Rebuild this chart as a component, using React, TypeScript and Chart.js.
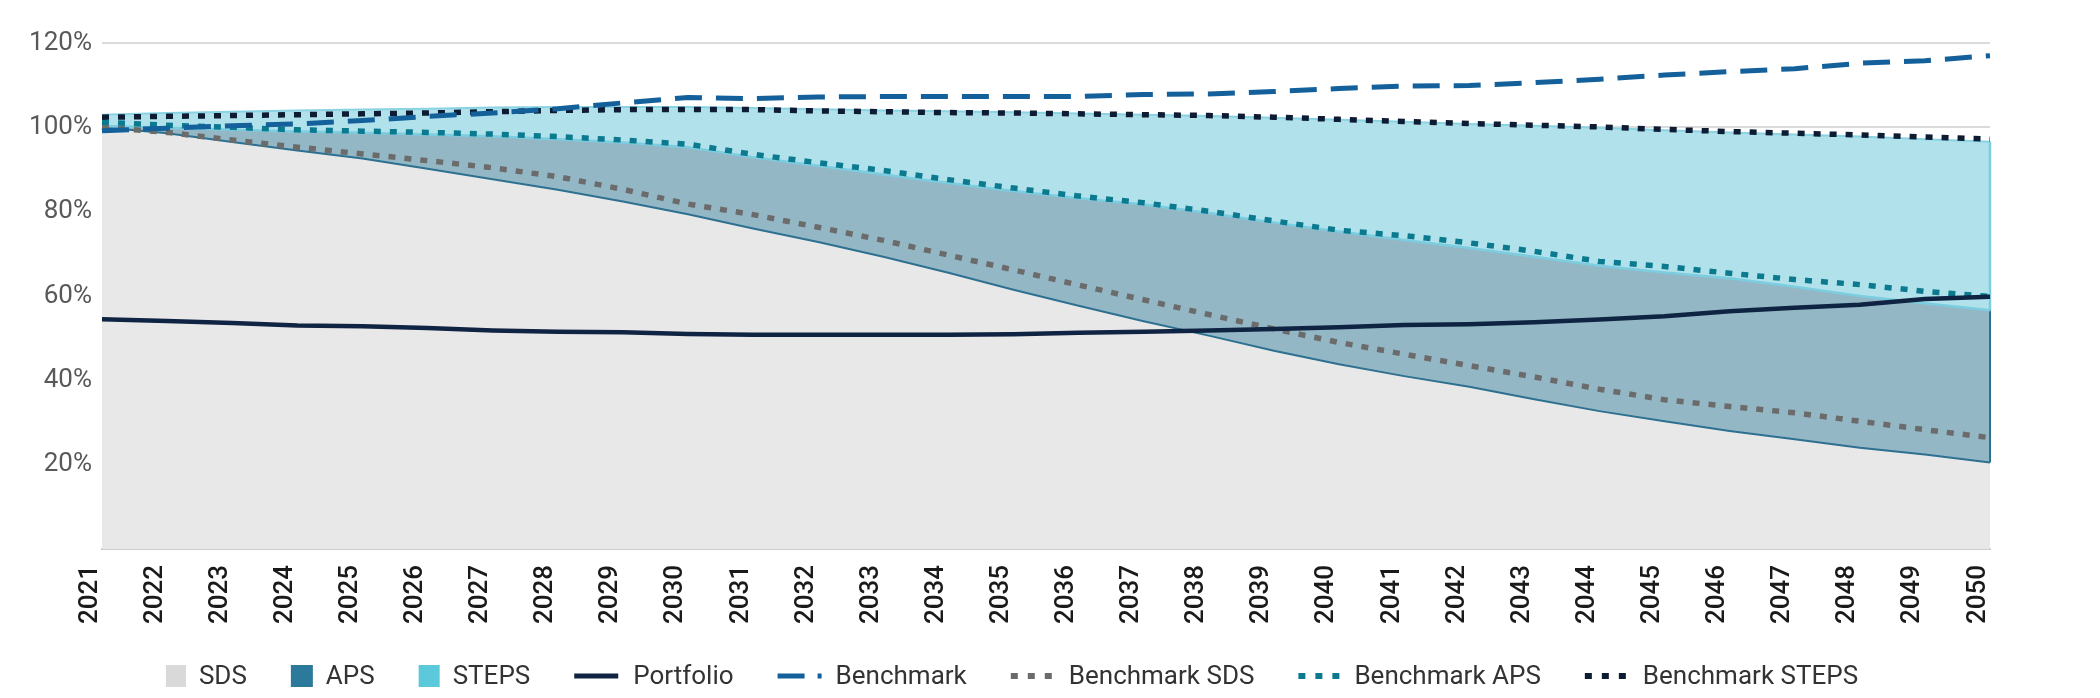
import React, { useEffect, useRef } from 'react';
import { Chart, registerables } from 'chart.js';

Chart.register(...registerables);

const years = [
  '2021', '2022', '2023', '2024', '2025', '2026', '2027', '2028', '2029', '2030',
  '2031', '2032', '2033', '2034', '2035', '2036', '2037', '2038', '2039', '2040',
  '2041', '2042', '2043', '2044', '2045', '2046', '2047', '2048', '2049', '2050',
];

const seriesNames = ['SDS', 'APS', 'STEPS', 'Portfolio', 'Benchmark', 'Benchmark SDS', 'Benchmark APS', 'Benchmark STEPS'];

const sds = [100, 98.6, 96.5, 94.5, 92.6, 90.2, 87.7, 85.2, 82.4, 79.4, 76.0, 72.8, 69.3, 65.5, 61.5, 57.7, 54.0, 50.6, 47.0, 43.8, 41.0, 38.5, 35.5, 32.7, 30.3, 28.0, 26.0, 24.0, 22.4, 20.5];
const aps = [100.3, 99.9, 99.4, 99.0, 98.7, 98.3, 97.9, 97.2, 96.4, 95.3, 92.9, 90.9, 88.8, 86.8, 84.9, 83.2, 81.7, 79.7, 77.4, 75.3, 73.3, 71.4, 69.3, 67.2, 65.6, 64.2, 62.2, 60.0, 58.3, 56.6];
const steps = [103.0, 103.4, 103.7, 104.0, 104.2, 104.4, 104.7, 104.8, 104.8, 104.8, 104.6, 104.3, 104.0, 103.8, 103.6, 103.3, 103.0, 102.7, 102.3, 101.8, 101.3, 100.8, 100.4, 99.9, 99.3, 98.8, 98.3, 97.8, 97.2, 96.6];
const portfolio = [54.5, 54.1, 53.6, 53.0, 52.8, 52.4, 51.8, 51.5, 51.4, 51.0, 50.8, 50.8, 50.8, 50.8, 50.9, 51.3, 51.5, 51.8, 52.2, 52.6, 53.1, 53.3, 53.8, 54.4, 55.2, 56.4, 57.2, 57.9, 59.3, 59.8];
const benchmark = [99.2, 99.8, 100.4, 100.8, 101.6, 102.6, 103.4, 104.4, 105.8, 107.1, 106.8, 107.2, 107.3, 107.3, 107.3, 107.3, 107.8, 107.9, 108.5, 109.2, 109.8, 109.9, 110.6, 111.4, 112.4, 113.2, 113.9, 115.2, 115.8, 117.0];
const benchmarkSds = [100, 98.8, 97.0, 95.3, 93.7, 92.1, 90.4, 88.3, 85.3, 81.8, 79.3, 76.3, 73.2, 69.7, 66.2, 62.6, 59.1, 55.6, 52.2, 49.0, 46.2, 43.5, 40.8, 37.9, 35.4, 33.8, 32.3, 30.3, 28.3, 26.4];
const benchmarkAps = [101.2, 100.5, 100.0, 99.4, 99.1, 98.8, 98.4, 97.8, 97.0, 96.0, 93.6, 91.6, 89.8, 87.6, 85.6, 83.7, 82.1, 80.1, 77.8, 75.6, 74.3, 72.6, 70.6, 68.2, 67.0, 65.4, 63.9, 62.7, 61.1, 59.9];
const benchmarkSteps = [102.4, 102.6, 102.8, 103.0, 103.2, 103.4, 103.7, 104.0, 104.2, 104.2, 104.2, 103.9, 103.7, 103.5, 103.4, 103.2, 103.0, 102.8, 102.4, 101.9, 101.4, 100.9, 100.5, 100.1, 99.5, 99.0, 98.6, 98.2, 97.7, 97.2];

const Y_MIN = 0;
const Y_MAX = 120;
const Y_STEP = 20;

const FONT = 'Roboto';

type LegendStyle = { kind: 'box' | 'line'; color: string; w: number; gap: number; dash?: number[]; lw?: number };
const legendStyles: LegendStyle[] = [
  { kind: 'box', color: '#d9d9d9', w: 20, gap: 13 },
  { kind: 'box', color: '#2c7a9b', w: 22, gap: 13 },
  { kind: 'box', color: '#5bc8dc', w: 21, gap: 13 },
  { kind: 'line', color: '#0f2442', w: 44, gap: 15, dash: [], lw: 5 },
  { kind: 'line', color: '#14609a', w: 44, gap: 14, dash: [27, 13], lw: 5 },
  { kind: 'line', color: '#6b6b6b', w: 41, gap: 17, dash: [7, 10], lw: 6 },
  { kind: 'line', color: '#0b7a8f', w: 41, gap: 15, dash: [7, 10], lw: 6 },
  { kind: 'line', color: '#0d1b33', w: 41, gap: 17, dash: [7, 10], lw: 6 },
];

const bandEdges = {
  id: 'bandEdges',
  beforeDatasetsDraw(chart: any) {
    const { ctx, scales } = chart;
    const x = scales.x;
    const y = scales.y;
    const i = years.length - 1;
    const px = x.getPixelForValue(i);
    const seg = (a: number, b: number, color: string, w: number) => {
      ctx.save();
      ctx.strokeStyle = color;
      ctx.lineWidth = w;
      ctx.beginPath();
      ctx.moveTo(px, y.getPixelForValue(a));
      ctx.lineTo(px, y.getPixelForValue(b));
      ctx.stroke();
      ctx.restore();
    };
    seg(sds[i], aps[i], '#2d7090', 2);
    seg(aps[i], steps[i], '#7ccde0', 2.5);
  },
};

const customLegend = {
  id: 'customLegend',
  afterDraw(chart: any) {
    const ctx: CanvasRenderingContext2D = chart.ctx;
    ctx.save();
    ctx.font = `26px ${FONT}`;
    ctx.textBaseline = 'middle';
    ctx.textAlign = 'left';
    const gapItem = 44;
    const widths = seriesNames.map((n, i) => legendStyles[i].w + legendStyles[i].gap + ctx.measureText(n).width);
    const total = widths.reduce((a, b) => a + b, 0) + gapItem * (widths.length - 1);
    let x = 1004 - total / 2;
    const yc = chart.height - 14;
    seriesNames.forEach((name, i) => {
      const st = legendStyles[i];
      if (st.kind === 'box') {
        ctx.fillStyle = st.color;
        ctx.fillRect(x, yc - 11, st.w, 22);
      } else {
        ctx.save();
        ctx.strokeStyle = st.color;
        ctx.lineWidth = st.lw || 4;
        ctx.lineCap = 'butt';
        ctx.setLineDash(st.dash || []);
        ctx.beginPath();
        ctx.moveTo(x, yc);
        ctx.lineTo(x + st.w, yc);
        ctx.stroke();
        ctx.restore();
      }
      ctx.fillStyle = '#333333';
      ctx.fillText(name, x + st.w + st.gap, yc + 1);
      x += widths[i] + gapItem;
    });
    ctx.restore();
  },
};

export default function App() {
  const ref = useRef<HTMLCanvasElement>(null);

  useEffect(() => {
    const canvas = ref.current;
    if (!canvas) return;
    Chart.defaults.font.family = FONT;
    const common = { pointRadius: 0, pointHoverRadius: 0, tension: 0, borderCapStyle: 'butt' as const };
    const chart = new Chart(canvas, {
      type: 'line',
      data: {
        labels: years,
        datasets: [
          { ...common, label: seriesNames[0], data: sds, fill: 'origin', backgroundColor: '#e8e8e8', borderColor: '#2d7090', borderWidth: 2, order: 10 },
          { ...common, label: seriesNames[1], data: aps, fill: '-1', backgroundColor: '#94b7c6', borderColor: '#7ccde0', borderWidth: 2.5, order: 9 },
          { ...common, label: seriesNames[2], data: steps, fill: '-1', backgroundColor: '#b1e1eb', borderColor: '#8ad3e3', borderWidth: 2, order: 8 },
          { ...common, label: seriesNames[3], data: portfolio, fill: false, borderColor: '#0f2442', borderWidth: 4.5, order: 0 },
          { ...common, label: seriesNames[4], data: benchmark, fill: false, borderColor: '#14609a', borderWidth: 5, borderDash: [27, 14], order: 1 },
          { ...common, label: seriesNames[5], data: benchmarkSds, fill: false, borderColor: '#6b6b6b', borderWidth: 5.5, borderDash: [7, 9], order: 4 },
          { ...common, label: seriesNames[6], data: benchmarkAps, fill: false, borderColor: '#0b7a8f', borderWidth: 5.5, borderDash: [7, 9], order: 3 },
          { ...common, label: seriesNames[7], data: benchmarkSteps, fill: false, borderColor: '#0d1b33', borderWidth: 5.5, borderDash: [7, 9], order: 2 },
        ],
      },
      options: {
        responsive: false,
        animation: false,
        devicePixelRatio: 1,
        layout: { padding: { left: 0, right: 102, top: 35, bottom: 51 } },
        plugins: {
          legend: { display: false },
          tooltip: { enabled: false },
          filler: { drawTime: 'beforeDatasetsDraw' },
        },
        scales: {
          x: {
            type: 'category',
            offset: false,
            grid: { display: false, drawTicks: false },
            border: { display: true, color: '#cdcdcd', width: 2 },
            ticks: {
              autoSkip: false,
              minRotation: 90,
              maxRotation: 90,
              padding: 16,
              labelOffset: -12,
              color: '#1a1a1a',
              font: { size: 26, family: FONT, weight: '500' },
            },
            afterFit: (s: any) => { s.height = 90; },
          },
          y: {
            min: Y_MIN,
            max: Y_MAX,
            z: 1,
            grid: { color: 'rgba(0,0,0,0.14)', lineWidth: 2, drawTicks: false },
            border: { display: false },
            ticks: {
              stepSize: Y_STEP,
              padding: 10,
              color: '#595959',
              font: { size: 26, family: FONT },
              callback: (v: any) => (Number(v) === 0 ? '' : `${v}%`),
            },
            afterFit: (s: any) => { s.width = 94; },
          },
        },
      },
      plugins: [bandEdges, customLegend],
    });
    return () => chart.destroy();
  }, []);

  return (
    <div style={{ width: 2084, height: 682 }}>
      <canvas ref={ref} width={2084} height={682} style={{ display: 'block', width: 2084, height: 682 }} />
    </div>
  );
}
